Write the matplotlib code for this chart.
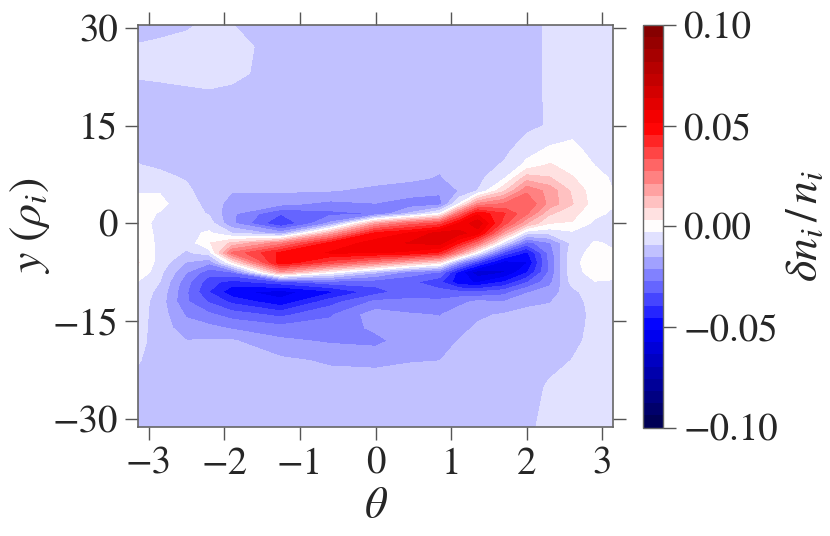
# -*- coding: utf-8 -*-
import matplotlib
matplotlib.use("Agg")
import matplotlib.pyplot as plt
import numpy as np

plt.rcParams['font.family'] = ['STIXGeneral', 'Liberation Serif', 'DejaVu Serif']
plt.rcParams['mathtext.fontset'] = 'stix'

# grid nodes
theta_nodes = [-3.14, -2.85, -2.5, -2.2, -1.9, -1.25, -0.6, 0.0, 0.45, 0.85, 1.1,
               1.35, 1.7, 2.0, 2.3, 2.6, 2.9, 3.14]
y_nodes = [30.4, 27, 23, 20, 15, 11, 9, 7, 5, 3, 1.5, 0, -1.5, -3, -4.5, -6,
           -7.5, -9, -10.5, -12, -14, -16, -18, -21, -25, -31.2]

# density in units of 1e-3, one line per theta node, y_nodes order
dens_columns = [
    [-10.5, -8.8, -8.5, -10.5, -11, -10, -9, -7.5, -3.5, -1, -1, -1, 0, 1, 2, 3.5, 2, -3.5, -5, -6, -6.5, -7, -7.5, -8.8, -10.5, -11],
    [-10, -8.5, -8, -10.5, -11, -10.5, -9.8, -8, -3.5, -1.5, -3.5, -4.5, -4.5, -4.5, -4.5, -5.5, -7.5, -9.2, -11, -12, -12, -12, -11.5, -11, -11, -11],
    [-9.5, -8, -7.5, -10, -11, -10.8, -10.2, -9.5, -8, -6.5, -5.5, -5, -5, -7, -10, -15.5, -21, -25, -26.5, -26.5, -22, -18.5, -15, -12.5, -11.5, -11],
    [-8.5, -7, -7.5, -9.5, -11.5, -12, -13, -15.3, -12, -11, -9.8, -6, -2, 2.5, -6, -20, -31, -37, -39.5, -34, -26, -19.5, -14.5, -12.5, -11.5, -11],
    [-9, -7.5, -8, -10, -12, -13, -13.5, -14, -14.8, -18, -20, -20, -9, 10, 28, 2, -28, -42, -50, -41, -30, -22, -14.5, -12.5, -11.5, -11],
    [-11, -11, -11, -11, -11.5, -12.5, -13, -13.5, -14.5, -19.5, -33, -39.7, -18, 24, 47, 50, 18, -36, -54, -50, -35, -25, -20, -14, -11.5, -11],
    [-11, -11, -11, -11, -11.5, -12.5, -13, -13.5, -15, -23, -29, -20, 16, 47, 52, 36, 0, -30, -47, -36, -28, -25, -22, -16, -12, -11],
    [-11, -11, -11, -11, -11.5, -12.3, -13, -14, -16, -21.5, -27, 18, 47, 54, 52, 24, -14, -31, -36, -26, -18, -20, -23, -16.5, -12, -11],
    [-11, -11, -11, -11, -11.5, -12.5, -13, -14.2, -17.5, -25, -14, 30, 52, 58, 50, 14, -24, -32, -30, -26, -20.5, -19, -18, -15.5, -12, -11],
    [-11, -11, -11, -11, -11.7, -13, -14.5, -15.5, -20, -24, -2, 36, 60, 60, 44, 6, -28, -38, -31, -26, -21.5, -19, -17, -15.2, -12, -11],
    [-11, -11, -11, -11, -11.6, -12.5, -13, -13.5, -15, -3, 28, 52, 60, 46, 22, -20, -48, -50, -32, -23, -18, -16.5, -15, -13.5, -12, -11],
    [-11, -11, -11, -11, -11.5, -12, -11.5, -11, -9, 22, 50, 62, 54, 28, -2, -38, -62, -52, -33, -20, -16, -14.5, -13, -12, -11.5, -11],
    [-11, -11, -11, -11, -11.5, -10.5, -8.5, -4, 8, 28, 40, 36, 18, -6, -35, -55, -58, -45, -30, -21, -14.5, -13, -12.5, -12, -11.5, -11],
    [-10.5, -10.5, -10.5, -10.5, -10.8, -5, -1.5, 12, 26, 33, 28, 15, -8, -30, -47, -52, -46, -34, -22, -16.5, -13.5, -12.5, -12, -11.5, -11, -10.5],
    [-8.5, -8.5, -8.5, -8.5, -8.5, -1.5, 3.5, 9.5, 19, 19, 10, 3, -8, -22, -25, -26, -26, -23, -18.5, -15.5, -13, -12, -11.5, -10.5, -8.5, -7],
    [-7.5, -7.5, -7.5, -7.5, -5.5, -1, 0.5, 3.5, 8, 9.5, 5, 2.5, -4.5, -7.5, -5.5, -4.2, -4.5, -7, -11, -11.5, -11, -10.5, -10, -9, -7.5, -6.5],
    [-6, -6, -6, -6, -6.5, -5, -3.2, -1.5, -0.5, 0, -1.5, -4.5, -5.5, -2.5, -1, -1, -1.5, -3.2, -5, -7, -8, -8, -8, -7.5, -6.5, -6],
    [-5.5, -5.5, -5.5, -5.5, -5.5, -5, -4.5, -3.6, -3, -2.5, -4, -5.5, -5.5, -3.8, -2.5, -2, -2.5, -3.2, -5, -6, -6.5, -6.5, -6.5, -6, -5.5, -5],
]

x_ticks = [-3, -2, -1, 0, 1, 2, 3]
y_ticks = [-30, -15, 0, 15, 30]
cbar_ticks = [-0.10, -0.05, 0.0, 0.05, 0.10]

dens = np.array(dens_columns).T * 1e-3
levels = np.linspace(-0.1, 0.1, 34)

fig = plt.figure(figsize=(8.3, 5.36), dpi=100)
W, H = 830.0, 536.0
ax = fig.add_axes([138 / W, 1 - 427 / H, 475 / W, 402 / H])
cax = fig.add_axes([642.5 / W, 1 - 427.5 / H, 20.5 / W, 402.5 / H])

cs = ax.contourf(theta_nodes, y_nodes, dens, levels=levels, cmap='seismic',
                 vmin=-0.1, vmax=0.1)
ax.set_xlim(-3.14, 3.14)
ax.set_ylim(-31.2, 30.4)
ax.set_xticks(x_ticks)
ax.set_yticks(y_ticks)
ax.tick_params(direction='out', length=9.5, width=1.0, color='#555555',
               labelsize=28, labelcolor='#262626', top=True, right=True, pad=5)
for s in ax.spines.values():
    s.set_color('#666666')
    s.set_linewidth(1.2)
ax.set_xlabel(r'$\theta$', fontsize=32, color='#262626', labelpad=5)
ax.set_ylabel(r'$y\ (\rho_i)$', fontsize=33, color='#262626', labelpad=0)

cb = fig.colorbar(cs, cax=cax, ticks=cbar_ticks)
cb.ax.set_yticklabels(['\u22120.10', '\u22120.05', '0.00', '0.05', '0.10'])
cb.ax.tick_params(direction='out', length=9.5, width=1.0, color='#555555',
                  labelsize=28, labelcolor='#262626', pad=5)
cb.outline.set_edgecolor('#666666')
cb.outline.set_linewidth(1.0)
cb.set_label(r'$\delta n_i\,/\,n_i$', fontsize=33, color='#262626', labelpad=6)

fig.savefig('out.png', dpi=100)
